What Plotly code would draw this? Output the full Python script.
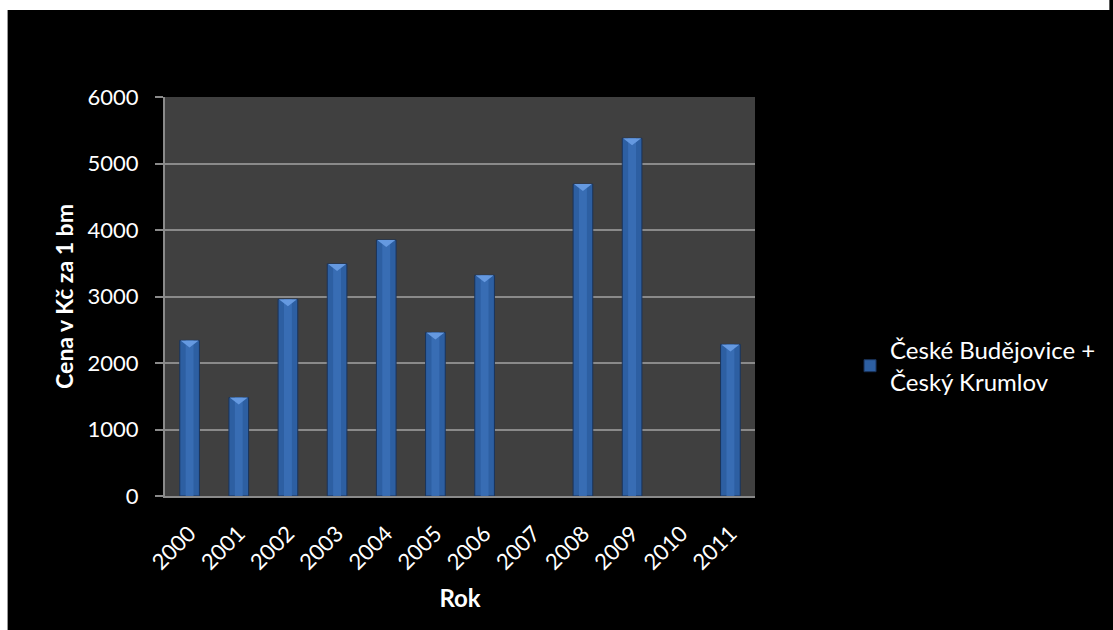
import plotly.graph_objects as go

# Average price per running metre (Kč), České Budějovice + Český Krumlov
years = ["2000", "2001", "2002", "2003", "2004", "2005",
         "2006", "2007", "2008", "2009", "2010", "2011"]
prices = [2340, 1480, 2960, 3490, 3850, 2460,
          3320, None, 4690, 5380, None, 2280]

series_name = "České Budějovice +<br>Český Krumlov"
y_ticks = [0, 1000, 2000, 3000, 4000, 5000, 6000]

FONT = "Lato"
W, H = 1113, 630
ML, MR, MT, MB = 165, 352, 97, 134
plot_w = W - ML - MR
plot_h = H - MT - MB
BAR_W = 0.4
Y_MAX = 6000

pos = list(range(len(years)))

# bevel depth expressed in axis units (about 7 px of the 0-6000 range)
bevel = 7 * Y_MAX / plot_h

fig = go.Figure()

# main column body
fig.add_trace(go.Bar(
    x=pos, y=prices, name=series_name,
    width=BAR_W,
    marker=dict(color="#2D5FA2", line=dict(color="#1A335A", width=1)),
))
# lighter centre strip for the cylinder-like shading
fig.add_trace(go.Bar(
    x=pos, y=prices, width=BAR_W * 0.4, showlegend=False, hoverinfo="skip",
    marker=dict(color="#3B70B9", opacity=0.8, line=dict(width=0)),
))
fig.update_layout(barmode="overlay")

# light triangular bevel at the top of each column
tri_x, tri_y = [], []
for i, p in zip(pos, prices):
    if p is None:
        continue
    half = BAR_W / 2 - 0.015
    tri_x += [i - half, i + half, i, i - half, None]
    tri_y += [p, p, p - bevel, p, None]
fig.add_trace(go.Scatter(
    x=tri_x, y=tri_y, mode="lines", fill="toself",
    fillcolor="#6599E0", line=dict(width=0, color="#6599E0"),
    showlegend=False, hoverinfo="skip",
))

# white frame on the left and top edges of the page
fig.add_shape(type="rect", xref="paper", yref="paper",
              x0=-ML / plot_w - 0.01, x1=(6 - ML) / plot_w,
              y0=-MB / plot_h - 0.01, y1=(H - MB + 10) / plot_h,
              fillcolor="white", line=dict(width=0), layer="above")
fig.add_shape(type="rect", xref="paper", yref="paper",
              x0=-ML / plot_w - 0.01, x1=(W - ML) / plot_w + 0.01,
              y0=(H - MB - 10) / plot_h, y1=(H - MB) / plot_h + 0.01,
              fillcolor="white", line=dict(width=0), layer="above")

fig.update_layout(
    width=W, height=H,
    margin=dict(l=ML, r=MR, t=MT, b=MB, pad=0),
    paper_bgcolor="black",
    plot_bgcolor="#404040",
    font=dict(family=FONT, size=22, color="white"),
    xaxis=dict(
        range=[-0.5, len(years) - 0.5],
        tickvals=pos, ticktext=years,
        tickangle=-45,
        showgrid=False, zeroline=False,
        showline=True, linecolor="#8A8A8A", linewidth=2,
        ticks="", ticklabelstandoff=14,
        title=dict(text="<b>Rok</b>", font=dict(family=FONT, size=24, color="white"),
                   standoff=16),
        tickfont=dict(family=FONT, size=22, color="white"),
    ),
    yaxis=dict(
        range=[0, Y_MAX],
        tickvals=y_ticks,
        showgrid=True, gridcolor="#8A8A8A", gridwidth=2,
        showline=True, linecolor="#8A8A8A", linewidth=2,
        ticks="outside", ticklen=8, tickcolor="#8A8A8A", tickwidth=2,
        ticklabelstandoff=12,
        zeroline=False,
        title=dict(text="<b>Cena v Kč za 1 bm</b>",
                   font=dict(family=FONT, size=23, color="white"), standoff=8),
        tickfont=dict(family=FONT, size=22, color="white"),
    ),
    legend=dict(
        x=(857 - ML) / plot_w, y=(496 - 366) / plot_h,
        xanchor="left", yanchor="middle",
        bgcolor="rgba(0,0,0,0)",
        font=dict(family=FONT, size=24, color="white"),
        itemwidth=30,
    ),
    showlegend=True,
)

fig.write_html("out.html")
